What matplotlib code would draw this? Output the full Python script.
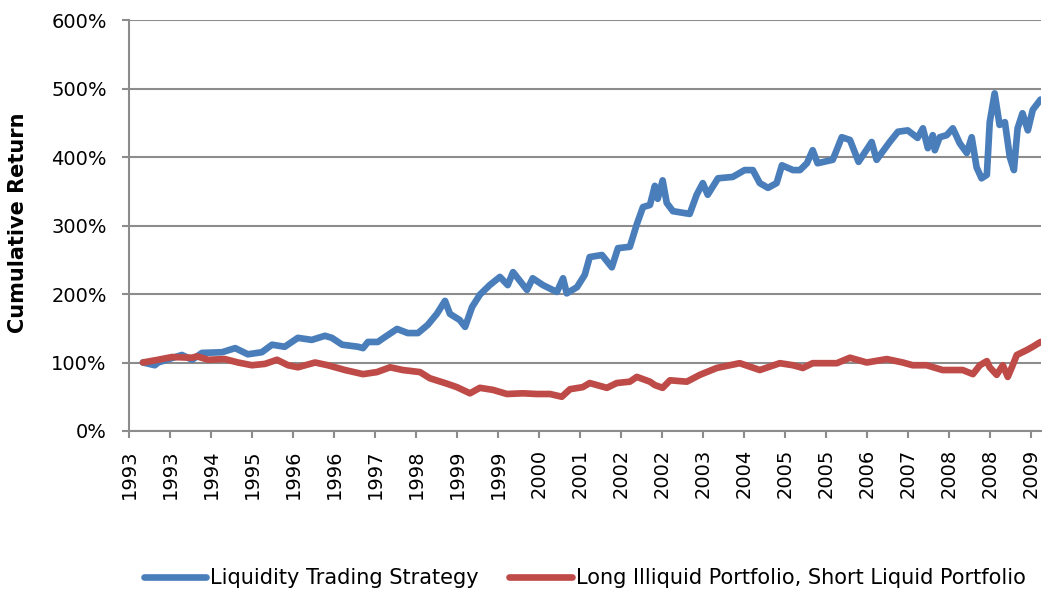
import matplotlib
matplotlib.use("Agg")
import matplotlib.pyplot as plt
from matplotlib.ticker import FuncFormatter

# x positions are in tick-slot units (0 = first "1993" tick), y in percent
tick_labels = ["1993", "1993", "1994", "1995", "1996", "1996", "1997", "1998",
               "1999", "1999", "2000", "2001", "2002", "2002", "2003", "2004",
               "2005", "2005", "2006", "2007", "2008", "2008", "2009"]

liq_x = [0.34, 0.63, 0.71, 1.29, 1.54, 1.78, 2.27, 2.59, 2.90, 3.24, 3.49, 3.80,
         4.12, 4.46, 4.78, 4.95, 5.20, 5.59, 5.71, 5.83, 6.07, 6.24, 6.54, 6.80,
         7.05, 7.29, 7.51, 7.71, 7.83, 8.07, 8.20, 8.37, 8.56, 8.80, 9.05, 9.24,
         9.37, 9.71, 9.85, 10.10, 10.44, 10.59, 10.68, 10.93, 11.12, 11.24, 11.54,
         11.78, 11.93, 12.22, 12.39, 12.54, 12.71, 12.83, 12.90, 13.02, 13.12,
         13.27, 13.68, 13.85, 14.00, 14.12, 14.37, 14.73, 15.02, 15.22, 15.39,
         15.59, 15.80, 15.93, 16.20, 16.37, 16.54, 16.68, 16.80, 17.17, 17.39,
         17.59, 17.80, 18.12, 18.24, 18.56, 18.76, 19.00, 19.24, 19.37, 19.49,
         19.61, 19.66, 19.78, 19.95, 20.10, 20.27, 20.44, 20.56, 20.68, 20.80,
         20.93, 21.00, 21.12, 21.24, 21.37, 21.49, 21.59, 21.68, 21.80, 21.93,
         22.05, 22.24]
liq_y = [100, 96, 100, 111, 104, 114, 115, 121, 112, 115, 126, 123,
         136, 133, 139, 136, 126, 123, 121, 130, 130, 137, 149, 143,
         143, 155, 171, 190, 171, 162, 152, 181, 199, 213, 225, 213,
         232, 206, 223, 213, 203, 223, 201, 210, 228, 254, 257,
         239, 267, 269, 302, 327, 330, 358, 339, 366, 333,
         321, 317, 345, 362, 345, 369, 371, 381, 381, 362,
         355, 362, 388, 381, 381, 391, 410, 391, 396, 429,
         425, 393, 422, 396, 422, 437, 439, 428, 442, 413,
         432, 410, 429, 432, 442, 420, 406, 429, 385, 369,
         374, 451, 493, 447, 451, 400, 381, 442, 464, 439,
         469, 484]

ill_x = [0.34, 0.71, 1.05, 1.54, 1.66, 1.93, 2.34, 2.66, 3.00, 3.32, 3.61, 3.88,
         4.12, 4.54, 4.85, 5.27, 5.71, 6.05, 6.37, 6.68, 7.10, 7.34, 7.76, 8.00,
         8.32, 8.56, 8.88, 9.22, 9.61, 9.95, 10.27, 10.56, 10.76, 11.07, 11.24,
         11.66, 11.90, 12.22, 12.39, 12.71, 12.83, 13.02, 13.20, 13.61, 13.93,
         14.34, 14.90, 15.39, 15.88, 16.20, 16.44, 16.68, 17.27, 17.59, 18.00,
         18.49, 18.88, 19.12, 19.46, 19.85, 20.34, 20.59, 20.76, 20.93, 21.00,
         21.17, 21.32, 21.44, 21.54, 21.66, 21.90, 22.05, 22.24]
ill_y = [100, 104, 108, 107, 109, 104, 105, 100, 96, 98, 104, 96,
         93, 100, 96, 89, 83, 86, 93, 89, 86, 77, 69, 64,
         55, 63, 60, 54, 55, 54, 54, 50, 61, 64, 70,
         63, 70, 72, 79, 72, 67, 63, 74, 72, 82,
         92, 99, 89, 99, 96, 92, 99, 99, 107, 100,
         105, 100, 96, 96, 89, 89, 83, 96, 102, 93,
         82, 96, 79, 93, 111, 118, 123, 130]

font = "DejaVu Sans"
fs = 14
grid_col = "#8c8c8c"

fig = plt.figure(figsize=(10.42, 5.92), dpi=100)
ax = fig.add_axes([0.1238, 0.272, 0.8752, 0.694])

ax.plot(liq_x, liq_y, color="#4a7ebb", lw=4.8, solid_joinstyle="round",
        solid_capstyle="round", label="Liquidity Trading Strategy", zorder=3)
ax.plot(ill_x, ill_y, color="#be4b48", lw=4.8, solid_joinstyle="round",
        solid_capstyle="round", label="Long Illiquid Portfolio, Short Liquid Portfolio", zorder=3)

ax.set_xlim(0, 22.25)
ax.set_ylim(0, 600)
ax.set_yticks(range(0, 601, 100))
ax.yaxis.set_major_formatter(FuncFormatter(lambda v, p: f"{v:.0f}%"))
ax.set_xticks(range(len(tick_labels)))
ax.set_xticklabels(tick_labels, rotation=90, fontfamily=font, fontsize=fs)
for t in ax.get_yticklabels():
    t.set_fontfamily(font)
    t.set_fontsize(fs)

ax.grid(axis="y", color=grid_col, lw=1.5)
ax.set_axisbelow(True)
for s in ["top", "right"]:
    ax.spines[s].set_visible(False)
for s in ["left", "bottom"]:
    ax.spines[s].set_color(grid_col)
    ax.spines[s].set_linewidth(1.5)
ax.tick_params(axis="both", colors=grid_col, labelcolor="black", width=1.5, length=5)
ax.tick_params(axis="y", pad=11)
ax.tick_params(axis="x", pad=8)

ax.set_ylabel("Cumulative Return", fontfamily=font, fontsize=15, fontweight="bold")
ax.yaxis.set_label_coords(-0.111, 0.507)

fig.legend(loc="center", bbox_to_anchor=(0.561, 0.024), ncol=2, frameon=False,
           prop={"family": font, "size": 15}, handlelength=3.0, handletextpad=0.2,
           columnspacing=1.45, borderpad=0)

fig.savefig("out.png", dpi=100)
